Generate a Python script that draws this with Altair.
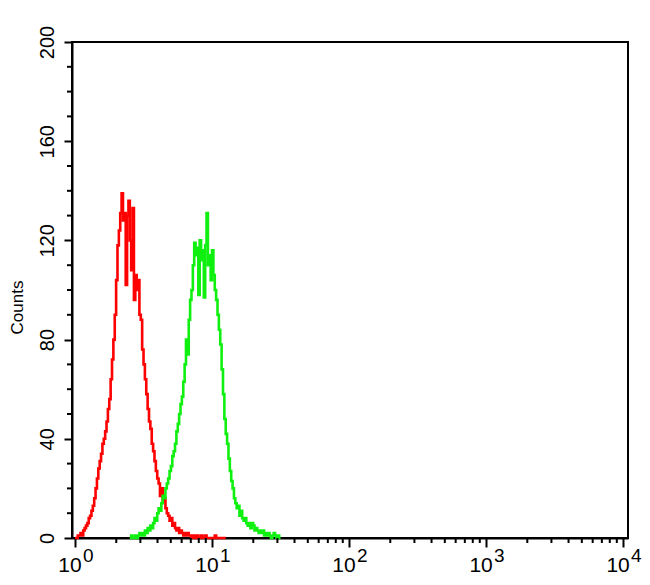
import altair as alt
import numpy as np
import pandas as pd

# ---- data ----
BIN = 0.01  # histogram bin width in log10 units
red_start = 0.00
red_counts = [
    0, 0, 1, 1, 2, 1, 3, 4, 5, 6,
    8, 9, 11, 13, 16, 20, 24, 28, 31, 34,
    38, 40, 43, 47, 52, 56, 64, 72, 80, 90,
    104, 118, 124, 131, 139, 128, 131, 102, 130, 136,
    120, 108, 133, 96, 106, 100, 104, 90, 88, 76,
    70, 64, 58, 52, 47, 44, 38, 35, 31, 27,
    24, 22, 17, 20, 15, 16, 12, 10, 9, 7,
    8, 5, 6, 4, 3, 4, 2, 3, 2, 1,
    2, 1, 2, 1, 1, 0, 1, 1, 0, 1,
    0, 0, 1, 0, 0, 1, 0, 0, 0, 0,
    0, 0, 1, 0, 0, 0, 0, 0, 0, 0, 0,
]
green_start = 0.40
green_counts = [
    0, 1, 0, 0, 1, 0, 1, 2, 1, 2,
    1, 3, 2, 4, 3, 5, 4, 6, 8, 7,
    10, 12, 11, 14, 17, 16, 20, 22, 24, 27,
    29, 33, 35, 38, 43, 46, 50, 54, 57, 63,
    70, 80, 74, 88, 96, 100, 110, 119, 114, 117,
    98, 120, 112, 116, 97, 118, 131, 110, 114, 104,
    116, 106, 100, 96, 90, 84, 78, 68, 58, 48,
    42, 38, 32, 27, 23, 20, 16, 14, 12, 13,
    9, 11, 8, 7, 8, 6, 5, 6, 4, 6,
    5, 3, 4, 3, 2, 3, 2, 3, 1, 2,
    1, 2, 1, 0, 1, 2, 1, 0, 1, 0, 0,
]
exponents = [0, 1, 2, 3, 4]
y_major = [0, 40, 80, 120, 160, 200]
y_minor = [v for v in range(0, 201, 10) if v % 40 != 0]
x_major = [10 ** e for e in exponents]
x_minor = [m * 10 ** k for k in range(4) for m in range(2, 10)]


def frame(start, counts, name):
    logs = start + BIN * np.arange(len(counts))
    return pd.DataFrame({"x": 10 ** logs, "count": counts, "series": name})


df_red = frame(red_start, red_counts, "red")
df_green = frame(green_start, green_counts, "green")
df_exp = pd.DataFrame({"x": x_major, "e": [str(e) for e in exponents]})
df_yminor = pd.DataFrame({"v": y_minor})
df_xminor = pd.DataFrame({"v": x_minor})

W, H = 556, 496
FONT = "Liberation Sans"

xscale = alt.Scale(type="log", domain=[10 ** -0.022, 10 ** 4.036], nice=False)
yscale = alt.Scale(domain=[0, 200], nice=False, zero=True)

xaxis = alt.Axis(
    values=x_major, labelExpr="'10'", tickSize=9, tickWidth=2, tickColor="black",
    domainColor="black", domainWidth=2, grid=False, title=None,
    labelFont=FONT, labelFontSize=21, labelColor="black", labelAlign="center",
    labelBaseline="alphabetic", labelPadding=24, labelOffset=-5.5,
    labelFlush=False, labelOverlap=False,
)
yaxis = alt.Axis(
    values=y_major, tickSize=8, tickWidth=2, tickColor="black",
    domainColor="black", domainWidth=2, grid=False, title="Counts",
    labelFont=FONT, labelFontSize=20, labelColor="black", labelAngle=270,
    labelAlign="center", labelBaseline="alphabetic", labelPadding=11,
    labelFlush=False, labelOverlap=False,
    titleFont=FONT, titleFontSize=17, titleFontWeight="normal", titleColor="black",
    titleAngle=270, titleAlign="center", titleBaseline="middle",
    titleX=-55, titleY=265,
)

green = alt.Chart(df_green).mark_line(
    interpolate="step-after", color="#10f010", strokeWidth=2.6
).encode(
    x=alt.X("x:Q", scale=xscale, axis=xaxis),
    y=alt.Y("count:Q", scale=yscale, axis=yaxis),
)
red = alt.Chart(df_red).mark_line(
    interpolate="step-after", color="#ff0000", strokeWidth=2.6
).encode(
    x=alt.X("x:Q", scale=xscale),
    y=alt.Y("count:Q", scale=yscale),
)

ymin = alt.Chart(df_yminor).mark_rule(color="black", strokeWidth=2).encode(
    y=alt.Y("v:Q", scale=yscale),
    x=alt.value(-5), x2=alt.value(0),
)
xmin = alt.Chart(df_xminor).mark_rule(color="black", strokeWidth=2).encode(
    x=alt.X("v:Q", scale=xscale),
    y=alt.value(H), y2=alt.value(H + 5),
)
exp_text = alt.Chart(df_exp).mark_text(
    align="left", baseline="alphabetic", dx=8, font=FONT, fontSize=19, color="black"
).encode(
    x=alt.X("x:Q", scale=xscale),
    y=alt.value(H + 24),
    text="e:N",
)

chart = alt.layer(red, green, ymin, xmin, exp_text).properties(
    width=W, height=H,
    background="white",
    autosize=alt.AutoSizeParams(type="none"),
    padding={"left": 64, "top": 34, "right": 14, "bottom": 45},
).configure_view(stroke="black", strokeWidth=2)

chart.save("out.html", embed_options={"renderer": "svg", "actions": False})
